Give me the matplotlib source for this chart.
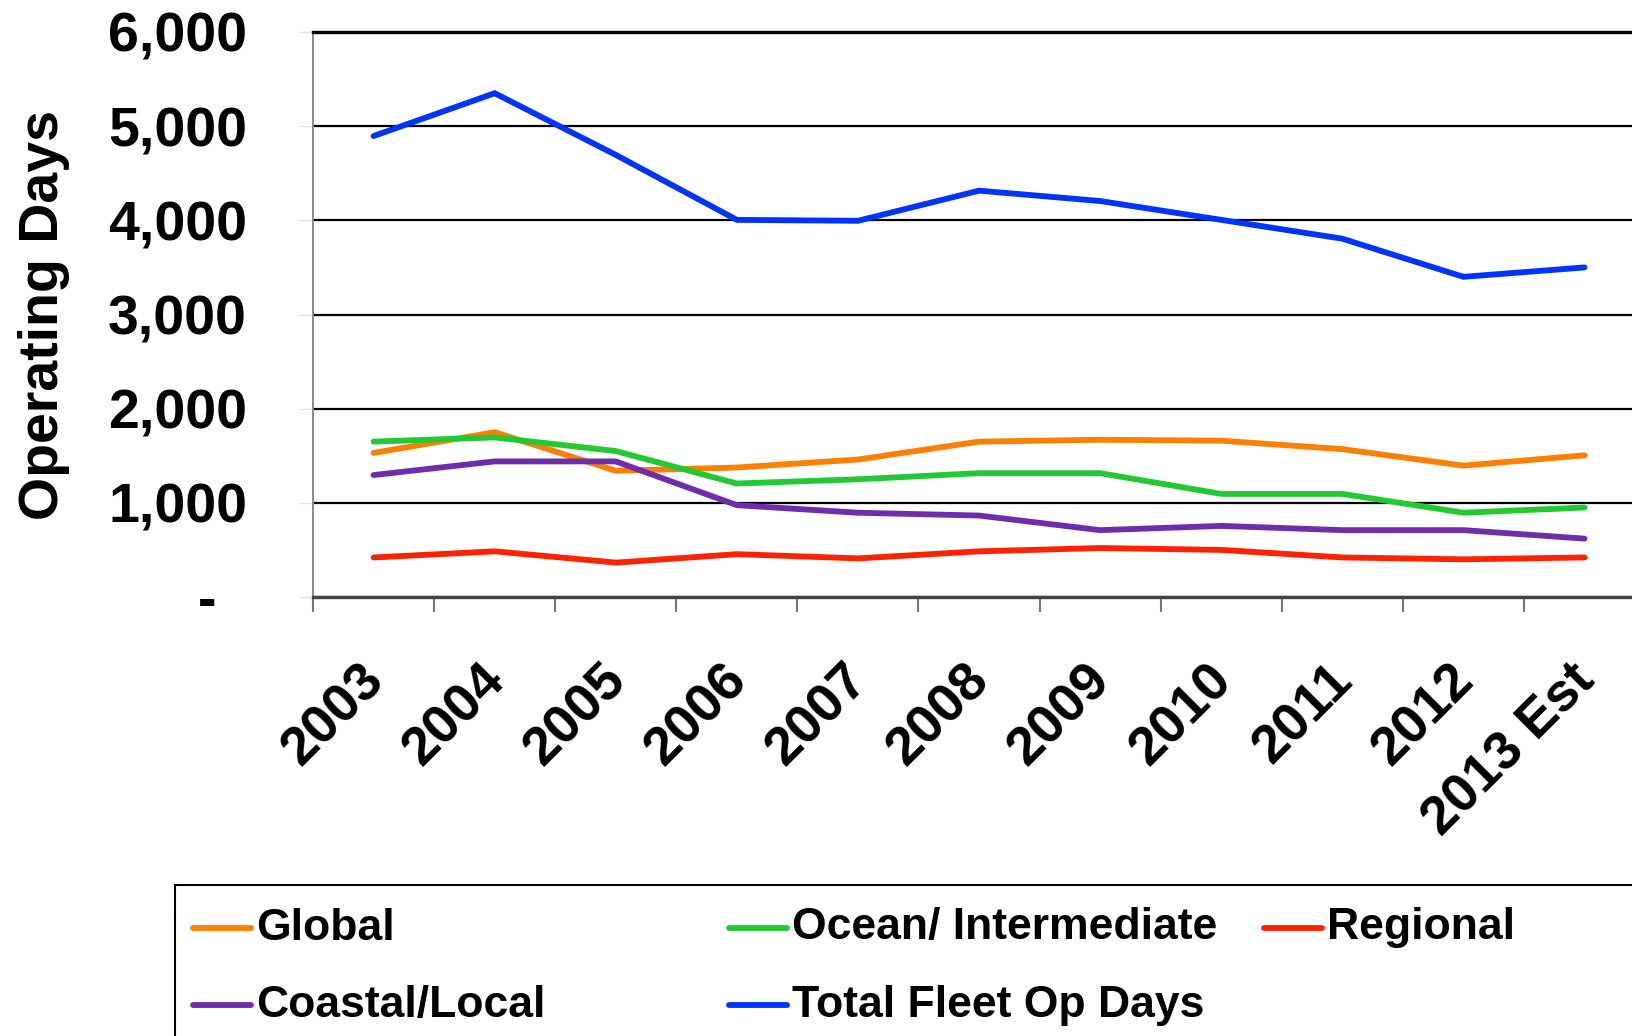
import matplotlib
matplotlib.use("Agg")
import matplotlib.pyplot as plt
from matplotlib.lines import Line2D
from matplotlib.patches import Rectangle
from matplotlib.ticker import FuncFormatter, FixedLocator
from matplotlib.transforms import ScaledTranslation

plt.rcParams['font.family'] = ['Liberation Sans', 'DejaVu Sans']
plt.rcParams['font.weight'] = 'bold'

years = ["2003", "2004", "2005", "2006", "2007", "2008", "2009", "2010", "2011", "2012", "2013 Est"]
global_days = [1530, 1750, 1340, 1375, 1460, 1650, 1670, 1660, 1570, 1395, 1505]
ocean_days = [1650, 1695, 1550, 1205, 1250, 1315, 1315, 1095, 1095, 895, 950]
regional_days = [420, 485, 365, 455, 410, 485, 520, 500, 420, 400, 420]
coastal_days = [1295, 1440, 1440, 975, 895, 865, 710, 755, 710, 710, 620]
total_days = [4895, 5350, 4695, 4005, 3995, 4315, 4205, 4005, 3805, 3400, 3500]

series = [
    ("Global", global_days, "#FF8000"),
    ("Ocean/ Intermediate", ocean_days, "#22C932"),
    ("Regional", regional_days, "#FF2200"),
    ("Coastal/Local", coastal_days, "#6F2DAD"),
    ("Total Fleet Op Days", total_days, "#0033FF"),
]

W, H = 1633, 1036
fig = plt.figure(figsize=(W / 100, H / 100), dpi=100)
AXL, AXR, AXT, AXB = 313, 1645, 32, 597
ax = fig.add_axes([AXL / W, 1 - AXB / H, (AXR - AXL) / W, (AXB - AXT) / H])

x = list(range(len(years)))
for name, vals, col in series:
    ax.plot(x, vals, color=col, lw=4.2, solid_capstyle='round', solid_joinstyle='miter', zorder=3)

ax.set_xlim(-0.5, len(years) - 0.5)
ax.set_ylim(0, 6000)
ax.set_yticks(range(0, 6001, 1000))
ax.yaxis.set_major_formatter(FuncFormatter(lambda v, p: "-  " if v == 0 else f"{int(v):,}"))
ax.grid(axis='y', color='black', lw=1.6, zorder=1)

ax.set_xticks(x)
ax.set_xticklabels(years, rotation=45, ha='right', va='top', fontsize=39, fontweight='bold')
ax.xaxis.set_minor_locator(FixedLocator([i - 0.5 for i in range(len(years) + 1)]))
ax.tick_params(axis='x', which='major', length=0, pad=42)
ax.tick_params(axis='x', which='minor', length=11, width=1.5, color='#777777', direction='out')

ax.tick_params(axis='y', length=10, width=1, color='#e4e4e4', labelsize=40, pad=37.5)
for lab in ax.get_yticklabels():
    lab.set_fontweight('bold')

offset = ScaledTranslation(20 / 100, 0, fig.dpi_scale_trans)
for lab in ax.get_xticklabels():
    lab.set_transform(lab.get_transform() + offset)

ax.set_ylabel("Operating Days", fontsize=40, fontweight='bold')
ax.yaxis.set_label_coords(-(AXL - 70) / (AXR - AXL), 0.5)

ax.spines['right'].set_visible(False)
ax.spines['top'].set_color('black')
ax.spines['top'].set_linewidth(2.4)
ax.spines['left'].set_color('#888888')
ax.spines['left'].set_linewidth(1.4)
ax.spines['bottom'].set_color('#444444')
ax.spines['bottom'].set_linewidth(2.4)

# legend box
fig.patches.append(Rectangle((175 / W, -0.1), 1.0, 1 - 885 / H + 0.1, transform=fig.transFigure,
                             fill=False, edgecolor='black', lw=1.5, clip_on=False))
pos = [(193, 928), (729, 928), (1264, 928), (193, 1005), (729, 1005)]
for (name, vals, col), (px, py) in zip(series, pos):
    fig.add_artist(Line2D([px / W, (px + 58) / W], [1 - py / H, 1 - py / H], color=col, lw=4.2,
                          solid_capstyle='round', transform=fig.transFigure))
    fig.text((px + 63) / W, 1 - py / H, name, fontsize=32, fontweight='bold', va='center', ha='left')

fig.savefig("out.png", dpi=100)
